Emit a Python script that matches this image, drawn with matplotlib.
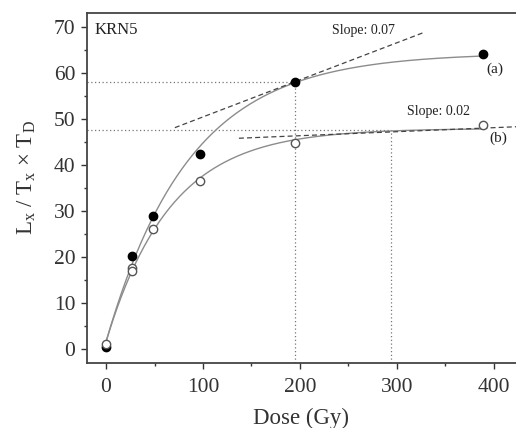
import matplotlib

matplotlib.use("Agg")

import matplotlib.pyplot as plt
import matplotlib.ticker as mticker
import numpy as np

plt.rcParams["font.family"] = ["Liberation Serif", "DejaVu Serif"]
plt.rcParams["mathtext.fontset"] = "custom"
plt.rcParams["mathtext.rm"] = "Liberation Serif"

# measured points, sample KRN5
dose_a = [0, 27, 48, 97, 195, 389]
sig_a = [0.5, 20.3, 29.0, 42.4, 58.0, 64.0]
dose_b = [0, 27, 27, 48, 97, 195, 389]
sig_b = [1.2, 17.6, 17.0, 26.1, 36.5, 44.7, 48.6]

# tangent lines (x0, y0, x1, y1) and their labels
tangent_a = [71, 48.1, 328, 68.8]
tangent_b = [137, 45.8, 423, 48.3]
slope_labels = ["Slope: 0.07", "Slope: 0.02"]

# reference guide levels
guide_a = (195, 58.0)
guide_b = (294, 47.5)


def fit_saturating(x, y):
    """y = y0 + A*(1 - exp(-x/D)); linear in (y0, A), grid over D."""
    x = np.asarray(x, float)
    y = np.asarray(y, float)
    best = None
    for d in np.linspace(20, 300, 2801):
        m = np.column_stack([np.ones_like(x), 1 - np.exp(-x / d)])
        coef, *_ = np.linalg.lstsq(m, y, rcond=None)
        err = np.sum((m @ coef - y) ** 2)
        if best is None or err < best[0]:
            best = (err, coef, d)
    _, (y0, a), d = best
    return lambda t: y0 + a * (1 - np.exp(-t / d))


fig = plt.figure(figsize=(5.16, 4.28), dpi=100)
ax = fig.add_axes([0.1686, 0.152, 0.8314, 0.8176])

xs = np.linspace(0, 389, 300)
for dose, sig in ((dose_a, sig_a), (dose_b, sig_b)):
    f = fit_saturating(dose, sig)
    ax.plot(xs, f(xs), color="#8c8c8c", linewidth=1.0, zorder=2)

ax.plot(dose_a, sig_a, "o", color="black", markersize=6, zorder=4)
ax.plot(dose_b, sig_b, "o", markerfacecolor="white", markeredgecolor="#555555",
        markeredgewidth=1.0, markersize=6, zorder=4)

# dotted guides
dot = dict(color="#777777", linestyle=(0, (1, 2)), linewidth=0.9, zorder=1)
ax.plot([-20, guide_a[0]], [guide_a[1], guide_a[1]], **dot)
ax.plot([guide_a[0], guide_a[0]], [-3, guide_a[1]], **dot)
ax.plot([-20, guide_b[0]], [guide_b[1], guide_b[1]], **dot)
ax.plot([guide_b[0], guide_b[0]], [-3, guide_b[1]], **dot)

# dashed tangents
dash = dict(color="#444444", linestyle=(0, (4, 2.5)), linewidth=0.9, zorder=3)
ax.plot(tangent_a[0::2], tangent_a[1::2], **dash)
ax.plot(tangent_b[0::2], tangent_b[1::2], **dash)

ax.text(265, 69.2, slope_labels[0], fontsize=10, ha="center", va="center", color="#222222")
ax.text(343, 51.6, slope_labels[1], fontsize=10, ha="center", va="center", color="#222222")
ax.text(401, 60.8, "(a)", fontsize=11, ha="center", va="center", color="#222222")
ax.text(404, 45.8, "(b)", fontsize=11, ha="center", va="center", color="#222222")
ax.text(-12, 69.3, "KRN5", fontsize=12, ha="left", va="center", color="#222222")

ax.set_xlim(-19.6, 422.7)
ax.set_ylim(-3, 73)
ax.xaxis.set_major_locator(mticker.MultipleLocator(100))
ax.xaxis.set_minor_locator(mticker.MultipleLocator(50))
ax.yaxis.set_major_locator(mticker.MultipleLocator(10))
ax.yaxis.set_minor_locator(mticker.MultipleLocator(5))
ax.tick_params(which="both", direction="out", colors="#333333", labelsize=15.5)
ax.tick_params(which="major", length=4.5, width=1.0)
ax.tick_params(which="minor", length=2.5, width=1.0)
ax.tick_params(axis="x", which="major", pad=6)
ax.tick_params(axis="y", which="major", pad=4)
for side in ("left", "bottom", "top"):
    ax.spines[side].set_linewidth(1.3)
    ax.spines[side].set_color("#444444")
ax.spines["right"].set_visible(False)

ax.set_xlabel("Dose (Gy)", fontsize=16.5, color="#333333")
ax.set_ylabel(r"L$_\mathregular{x}$ / T$_\mathregular{x}$ $\mathregular{\times}$ T$_\mathregular{D}$",
              fontsize=16.5, color="#333333")
ax.xaxis.set_label_coords(0.499, -0.128)
ax.yaxis.set_label_coords(-0.114, 0.529)

fig.savefig("out.png", dpi=100)
